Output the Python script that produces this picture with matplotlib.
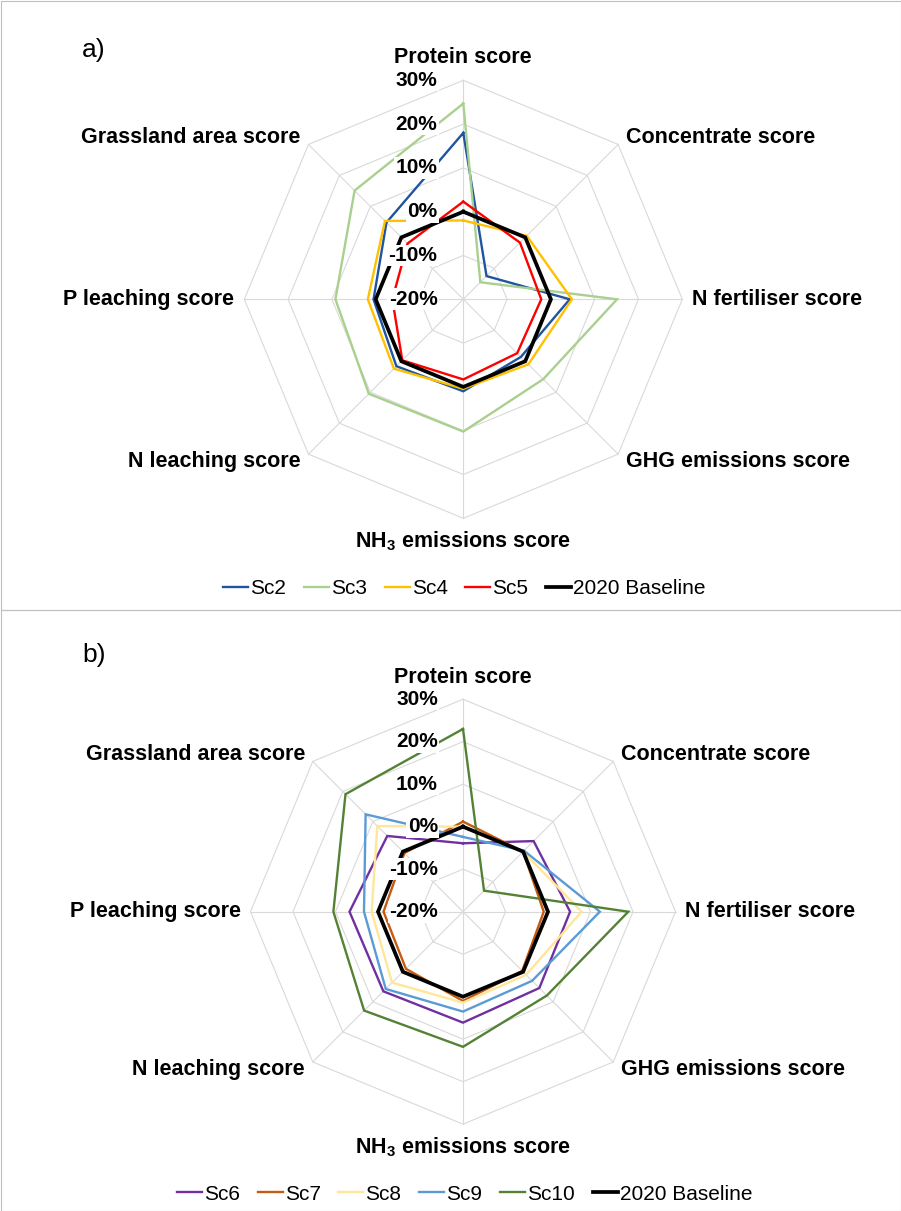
import numpy as np
import matplotlib
matplotlib.use("Agg")
import matplotlib.pyplot as plt

plt.rcParams['font.family'] = ['Liberation Sans', 'DejaVu Sans']
plt.rcParams['mathtext.fontset'] = 'custom'
plt.rcParams['mathtext.rm'] = 'Liberation Sans'
plt.rcParams['mathtext.bf'] = 'Liberation Sans:bold'

# ---- data -------------------------------------------------------------
categories = ["Protein score", "Concentrate score", "N fertiliser score",
              "GHG emissions score", r"NH$_\mathbf{3}$ emissions score",
              "N leaching score", "P leaching score", "Grassland area score"]
tick_values = [-20, -10, 0, 10, 20, 30]
tick_labels = ["-20%", "-10%", "0%", "10%", "20%", "30%"]

baseline = [0, 0, 0, 0, 0, 0, 0, 0]

# panel a) scenarios (% change vs 2020 baseline)
sc2 = [18.0, -12.5, 4.3, -1.4, 1.0, 1.6, 0.5, 4.8]
sc3 = [24.7, -14.5, 15.1, 5.8, 10.2, 10.5, 9.2, 15.1]
sc4 = [-2.0, 0.5, 4.8, 1.0, 0.4, 2.4, 1.8, 5.3]
sc5 = [2.3, -1.7, -2.2, -2.6, -1.7, -0.3, -3.8, -2.0]

# panel b) scenarios
sc6 = [-3.9, 3.5, 5.2, 5.4, 6.1, 6.5, 6.7, 5.2]
sc7 = [1.2, 0.0, -1.0, -0.3, 1.0, -1.0, -1.3, -0.5]
sc8 = [0.0, 0.0, 7.9, 1.0, 1.4, 3.6, 1.5, 8.5]
sc9 = [-2.4, 0.3, 12.2, 3.0, 3.5, 5.7, 3.3, 12.4]
sc10 = [23.0, -13.0, 18.9, 7.9, 11.8, 12.9, 10.5, 19.1]

names_a = ["Sc2", "Sc3", "Sc4", "Sc5", "2020 Baseline"]
series_a = [sc2, sc3, sc4, sc5, baseline]
colors_a = ["#1F55A0", "#A9D08E", "#FFC000", "#FF0000", "#000000"]

names_b = ["Sc6", "Sc7", "Sc8", "Sc9", "Sc10", "2020 Baseline"]
series_b = [sc6, sc7, sc8, sc9, sc10, baseline]
colors_b = ["#7030A0", "#C55A11", "#FFE699", "#5B9BD5", "#548235", "#000000"]

# ---- geometry helpers ---------------------------------------------------
R_MIN = tick_values[0]
R_SPAN = tick_values[-1] - R_MIN
n_axes = len(categories)
angles = np.arange(n_axes) * 2 * np.pi / n_axes
GRID = "#D9D9D9"


def to_xy(values):
    r = np.asarray(values, dtype=float) - R_MIN
    x = r * np.sin(angles)
    y = r * np.cos(angles)
    return np.append(x, x[0]), np.append(y, y[0])


label_pos = [(0, 55.2, "center"), (37.2, 37.0, "left"), (52.3, 0, "left"),
             (37.2, -37.1, "left"), (0, -55.3, "center"), (-37.2, -37.1, "right"),
             (-52.3, 0, "right"), (-37.2, 37.0, "right")]


def draw_radar(ax, names, series, colors):
    ax.set_xlim(-60, 60)
    ax.set_ylim(-60, 60)
    ax.set_aspect("equal")
    ax.axis("off")
    # octagonal rings
    for v in tick_values[1:]:
        x, y = to_xy([v] * n_axes)
        ax.plot(x, y, color=GRID, lw=0.8, zorder=1)
    # spokes
    for a in angles:
        ax.plot([0, R_SPAN * np.sin(a)], [0, R_SPAN * np.cos(a)],
                color=GRID, lw=0.8, zorder=1)
    handles = []
    for name, vals, c in zip(names, series, colors):
        lw = 2.7 if name == "2020 Baseline" else 1.7
        x, y = to_xy(vals)
        ln, = ax.plot(x, y, color=c, lw=lw, zorder=3, solid_joinstyle="miter")
        handles.append(ln)
    # radial tick labels
    for v, t in zip(tick_values, tick_labels):
        ax.text(-5.9, v - R_MIN, t, ha="right", va="center", fontsize=15,
                fontweight="bold", zorder=6,
                bbox=dict(facecolor="white", edgecolor="none", pad=1.0))
    # category labels
    for (lx, ly, ha), cat in zip(label_pos, categories):
        ax.text(lx, ly, cat, ha=ha, va="center", fontsize=15.5,
                fontweight="bold", zorder=6)
    return handles


W, H = 901, 1211
fig = plt.figure(figsize=(W / 100, H / 100), dpi=100)


def add_radar_axes(cx, cy, px_per_unit):
    half = 60 * px_per_unit
    return fig.add_axes([(cx - half) / W, (H - cy - half) / H,
                         2 * half / W, 2 * half / H])


ax_a = add_radar_axes(463.3, 299.3, 4.38)
ax_b = add_radar_axes(463.0, 911.7, 4.25)

h_a = draw_radar(ax_a, names_a, series_a, colors_a)
h_b = draw_radar(ax_b, names_b, series_b, colors_b)

leg_kw = dict(loc="center", ncol=6, frameon=False, fontsize=15,
              handlelength=1.2, handletextpad=0.1, columnspacing=0.85)
fig.legend(h_a, names_a, bbox_to_anchor=(464.5 / W, 1 - 588.6 / H), **leg_kw)
fig.legend(h_b, names_b, bbox_to_anchor=(464.5 / W, 1 - 1194 / H), **leg_kw)

fig.text(82 / W, 1 - 50 / H, "a)", fontsize=19, ha="left", va="center")
fig.text(82 / W, 1 - 655 / H, "b)", fontsize=19, ha="left", va="center")

# panel frames
for y0, y1 in [(0.5, 609.5), (609.5, 1210.5)]:
    fig.add_artist(plt.Rectangle((0.5 / W, 1 - y1 / H), (W - 1) / W, (y1 - y0) / H,
                                 transform=fig.transFigure, fill=False,
                                 edgecolor="#BFBFBF", lw=0.8))

fig.savefig("out.png", dpi=100, facecolor="white")
